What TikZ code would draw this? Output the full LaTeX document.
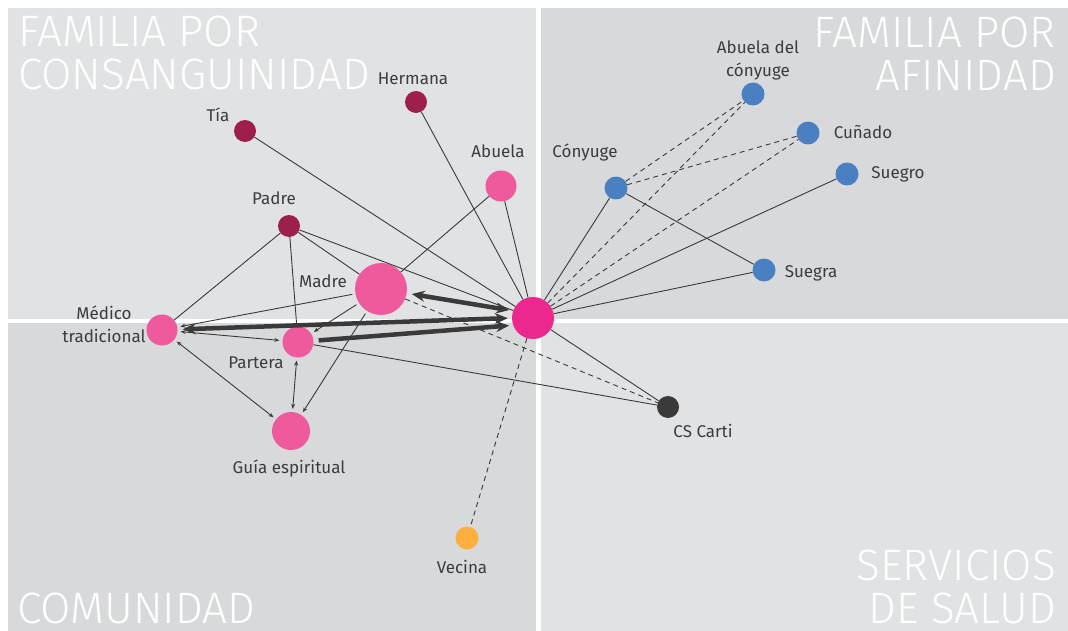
\documentclass[tikz,border=0pt]{standalone}
\usepackage{fontspec}
\setmainfont{Fira Sans}
\newfontfamily\titlefont{Fira Sans Light}
\usetikzlibrary{arrows.meta,calc}
\definecolor{panellight}{HTML}{E1E2E4}
\definecolor{paneldark}{HTML}{D8D9DB}
\definecolor{egopink}{HTML}{EC288E}
\definecolor{netpink}{HTML}{EF5A9D}
\definecolor{netmaroon}{HTML}{9E1F4B}
\definecolor{netblue}{HTML}{4A80C2}
\definecolor{netdark}{HTML}{3A3A3A}
\definecolor{netorange}{HTML}{FBAF3F}
\definecolor{labelgray}{HTML}{3C3C3C}
\tikzset{
    every node/.style={font=\fontsize{17}{23}\selectfont,text=labelgray,inner sep=0pt},
    person/.style={circle,inner sep=0pt,minimum size=#1},
    egonode/.style={person=42pt,fill=egopink},
    close/.style={person=#1,fill=netpink},
    kin/.style={person=22pt,fill=netmaroon},
    inlaw/.style={person=23pt,fill=netblue},
    health/.style={person=22pt,fill=netdark},
    neighbour/.style={person=23pt,fill=netorange},
    plabel/.style={anchor=base,align=center},
    quadtitle/.style={font=\titlefont\fontsize{44}{44}\selectfont,text=white},
    tie/.style={draw=netdark,line width=0.9pt},
    weak/.style={tie,dash pattern=on 5pt off 4pt},
    helps/.style={tie,shorten >=3pt,shorten <=3pt},
    strong/.style={draw=netdark,line width=4.5pt,shorten >=4pt,shorten <=5pt},
    smalltip/.tip={Stealth[length=5pt,width=4pt]},
    bigtip/.tip={Stealth[length=13pt,width=11pt]}
}

\begin{document}
\begin{tikzpicture}[x=1pt,y=-1pt]
\useasboundingbox (0,0) rectangle (1068,631);
\fill[white] (0,0) rectangle (1068,631);
\fill[panellight] (8,8) rectangle (536,319);
\fill[paneldark] (541,8) rectangle (1068,319);
\fill[paneldark] (8,323) rectangle (536,631);
\fill[panellight] (541,323) rectangle (1068,631);

\node[quadtitle,anchor=base west] (consa) at (18,47) {FAMILIA POR};
\node[quadtitle,anchor=base west] (consb) at (18,90) {CONSANGUINIDAD};
\node[quadtitle,anchor=base east] (afina) at (1056,48) {FAMILIA POR};
\node[quadtitle,anchor=base east] (afinb) at (1056,91) {AFINIDAD};
\node[quadtitle,anchor=base west] (comun) at (17,623) {COMUNIDAD};
\node[quadtitle,anchor=base east] (serva) at (1056,580) {SERVICIOS};
\node[quadtitle,anchor=base east] (servb) at (1056,623) {DE SALUD};

\node[egonode] (ego) at (533,318) {};
\node[close=52pt] (madre) at (381,289) {};
\node[close=31pt] (partera) at (298,342) {};
\node[close=31pt] (medico) at (162,330) {};
\node[close=38pt] (guia) at (291,431) {};
\node[close=31pt] (abuela) at (501,186) {};
\node[kin] (padre) at (289,226) {};
\node[kin] (tia) at (245,131) {};
\node[kin] (hermana) at (416,102) {};
\node[inlaw] (conyuge) at (616,188) {};
\node[inlaw] (abuelac) at (753,94) {};
\node[inlaw] (cunado) at (808,133) {};
\node[inlaw] (suegro) at (847,174) {};
\node[inlaw] (suegra) at (764,270) {};
\node[health] (cs) at (668,407) {};
\node[neighbour] (vecina) at (467,538) {};

\node[plabel] (hermanal) at (413,85) {Hermana};
\node[plabel] (tial) at (218,122) {Tía};
\node[plabel] (abuelal) at (498,158) {Abuela};
\node[plabel] (padrel) at (274,205) {Padre};
\node[plabel] (madrel) at (323,287) {Madre};
\node[plabel] (medicol) at (104,342) {Médico\\tradicional};
\node[plabel] (parteral) at (256,368) {Partera};
\node[plabel] (guial) at (289,473) {Guía espiritual};
\node[plabel] (vecinal) at (462,573) {Vecina};
\node[plabel] (csl) at (703,437) {CS Carti};
\node[plabel] (conyugel) at (585,158) {Cónyuge};
\node[plabel] (abuelacl) at (758,77) {Abuela del\\cónyuge};
\node[plabel] (cunadol) at (863,139) {Cuñado};
\node[plabel] (suegrol) at (898,179) {Suegro};
\node[plabel] (suegral) at (811,277) {Suegra};

\draw[tie] (tia) -- (ego);
\draw[tie] (hermana) -- (ego);
\draw[tie] (abuela) -- (ego);
\draw[tie] (abuela) -- (madre);
\draw[tie] (padre) -- (ego);
\draw[tie] (padre) -- (madre);
\draw[tie] (padre) -- (medico);
\draw[tie] (padre) -- (partera);
\draw[tie] (partera) -- (cs);
\draw[tie] (ego) -- (cs);
\draw[tie] (conyuge) -- (ego);
\draw[tie] (suegro) -- (ego);
\draw[tie] (suegra) -- (ego);
\draw[tie] (conyuge) -- (suegra);
\draw[weak] (conyuge) -- (abuelac);
\draw[weak] (conyuge) -- (cunado);
\draw[weak] (ego) -- (abuelac);
\draw[weak] (ego) -- (cunado);
\draw[weak] (ego) -- (vecina);
\draw[weak] (madre) -- (cs);

\draw[helps,-smalltip] (madre) -- (medico);
\draw[helps,-smalltip] (madre) -- (partera);
\draw[helps,-smalltip] (madre) -- (guia);
\draw[helps,smalltip-smalltip] (medico) -- (partera);
\draw[helps,smalltip-smalltip] (medico) -- (guia);
\draw[helps,smalltip-smalltip] (partera) -- (guia);

\draw[strong,bigtip-bigtip] (madre) -- (ego.160);
\draw[strong,bigtip-bigtip] (medico) -- (ego.180);
\draw[strong,-bigtip] (partera) -- (ego.200);
\end{tikzpicture}
\end{document}
